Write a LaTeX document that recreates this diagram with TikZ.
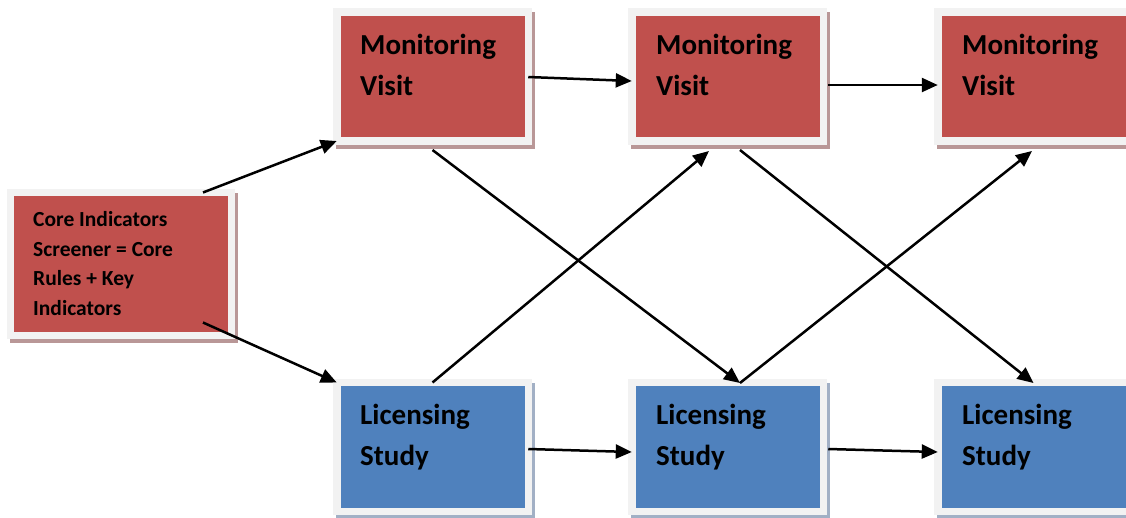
\documentclass[tikz,border=0pt]{standalone}
\usepackage{fontspec}
\setmainfont{Carlito}
\usetikzlibrary{arrows.meta,calc,backgrounds}
\definecolor{redfill}{HTML}{C0504D}
\definecolor{bluefill}{HTML}{4F81BD}
\definecolor{framegray}{HTML}{F2F2F2}
\definecolor{redshadow}{HTML}{B99797}
\definecolor{blueshadow}{HTML}{A2B0C5}
\begin{document}
\begin{tikzpicture}[x=1pt,y=-1pt,
  box/.style={draw=framegray, line width=7.5pt, inner sep=0pt, outer sep=0pt,
    minimum width=191.5pt, minimum height=129pt},
  redbox/.style={box, fill=redfill},
  bluebox/.style={box, fill=bluefill},
  bigtext/.style={font=\fontsize{29}{41}\selectfont\bfseries, anchor=base west, align=left, inner sep=0pt},
  smalltext/.style={font=\fontsize{21.5}{29.5}\selectfont\bfseries, anchor=base west, align=left, inner sep=0pt},
  conn/.style={line width=2.5pt, -{Triangle[length=16pt,width=14pt]}}]
\useasboundingbox (0,0) rectangle (1126,517);

% boxes
\node[redbox, minimum width=221pt, minimum height=143pt, line width=7pt] (core) at (121,264) {};
\node[redbox] (m1) at (432.5,76.5) {};
\node[redbox] (m2) at (727.5,76.5) {};
\node[redbox] (m3) at (1033.5,76.5) {};
\node[bluebox] (l1) at (432.5,447) {};
\node[bluebox] (l2) at (727.5,447) {};
\node[bluebox] (l3) at (1033.5,447) {};

% shadows
\begin{scope}[on background layer]
  \fill[redshadow] ($(core.north west)+(-0.5,0.5)$) rectangle ($(core.south east)+(6.5,7.5)$);
  \foreach \b in {m1,m2,m3}{
    \fill[redshadow] ($(\b.north west)+(-0.75,0.25)$) rectangle ($(\b.south east)+(6.75,7.75)$);
  }
  \foreach \b in {l1,l2,l3}{
    \fill[blueshadow] ($(\b.north west)+(-0.75,0.25)$) rectangle ($(\b.south east)+(6.75,7.75)$);
  }
\end{scope}

% texts (anchored at the baseline of the last line)
\node[smalltext] (coret) at (33,315) {Core Indicators\\Screener = Core\\Rules + Key\\Indicators};
\node[bigtext] (m1t) at (360,95) {Monitoring\\Visit};
\node[bigtext] (m2t) at (656,95) {Monitoring\\Visit};
\node[bigtext] (m3t) at (962,95) {Monitoring\\Visit};
\node[bigtext] (l1t) at (360,465) {Licensing\\Study};
\node[bigtext] (l2t) at (656,465) {Licensing\\Study};
\node[bigtext] (l3t) at (962,465) {Licensing\\Study};

% connectors
\draw[conn] ($(core.north)+(82,0)$) -- (m1.south west);
\draw[conn] ($(core.south)+(82,-13)$) -- (l1.north west);
\draw[conn] ($(m1.east)+(0,0.5)$) -- ($(m2.west)+(0,4.5)$);
\draw[conn] ($(m2.east)+(5,8.5)$) -- ($(m3.west)+(0,8.5)$);
\draw[conn] ($(l1.east)+(0,2)$) -- ($(l2.west)+(0,5)$);
\draw[conn] ($(l2.east)+(5,2)$) -- ($(l3.west)+(0,5)$);
\draw[conn] ($(m1.south)+(0,9)$) -- ($(l2.north)+(12.5,0.5)$);
\draw[conn] (l1.north) -- ($(m2.south)+(-18.5,10)$);
\draw[conn] ($(m2.south)+(12.5,9)$) -- ($(l3.north)+(0,0.5)$);
\draw[conn] ($(l2.north)+(12.5,0.5)$) -- ($(m3.south)+(-1.5,10)$);
\end{tikzpicture}
\end{document}
